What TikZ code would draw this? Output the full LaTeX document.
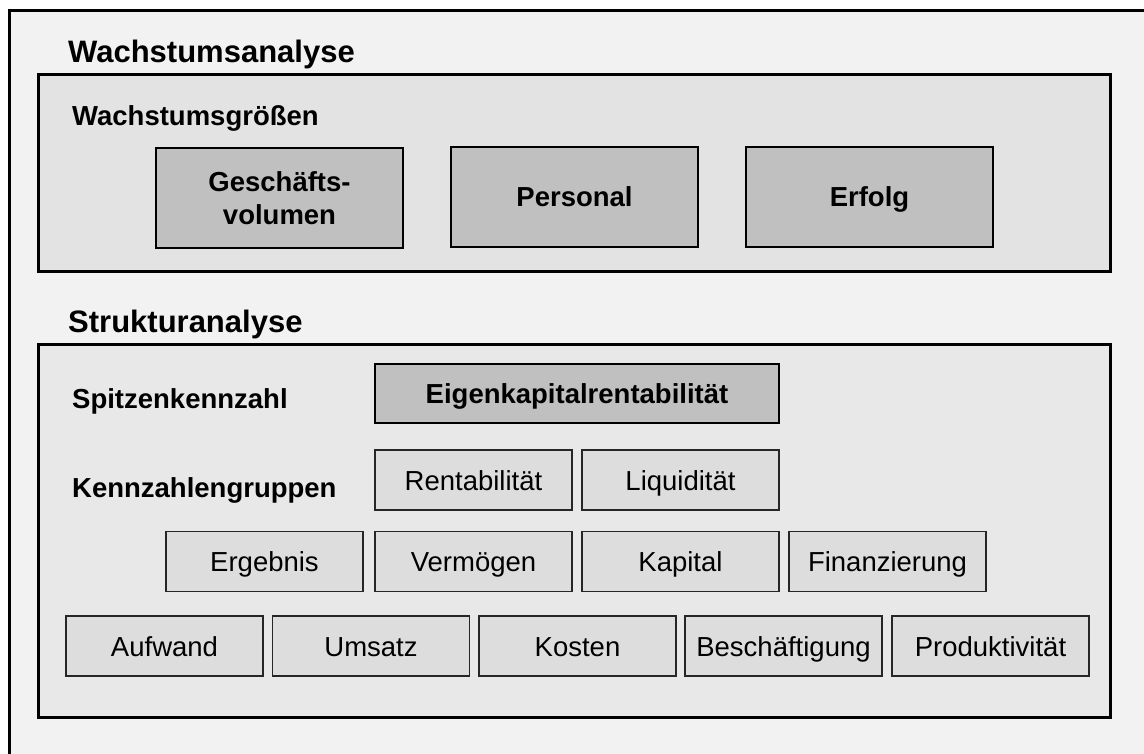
\documentclass[tikz,border=0pt]{standalone}
\usepackage{fontspec}
\setmainfont{Liberation Sans}
\definecolor{pagebg}{RGB}{242,242,242}
\definecolor{growthbg}{RGB}{227,227,227}
\definecolor{structbg}{RGB}{232,232,232}
\definecolor{darkfill}{RGB}{192,192,192}
\definecolor{lightfill}{RGB}{221,221,221}
\tikzset{
  panel/.style={draw=black, line width=3pt},
  headline/.style={anchor=base west, inner sep=0pt, font=\fontsize{31}{36}\selectfont\bfseries},
  rowlabel/.style={anchor=base west, inner sep=0pt, font=\fontsize{27.5}{33}\selectfont\bfseries},
  boxtext/.style={text height=26pt, text depth=6pt},
  keybox/.style={draw=black, line width=2.5pt, fill=darkfill, inner sep=0pt,
    minimum width=247pt, minimum height=100pt, align=center, boxtext,
    font=\fontsize{27.5}{33}\selectfont\bfseries},
  topbox/.style={draw=black, line width=1.5pt, fill=darkfill, inner sep=0pt,
    minimum width=404pt, minimum height=59pt, boxtext,
    font=\fontsize{27.5}{33}\selectfont\bfseries},
  groupbox/.style={draw=black!85, line width=1.5pt, fill=lightfill, inner sep=0pt,
    minimum width=197pt, minimum height=60pt, boxtext,
    font=\fontsize{27.5}{33}\selectfont}
}
\begin{document}
\begin{tikzpicture}[x=1pt, y=-1pt]
  \useasboundingbox (0,0) rectangle (1144,754);
  \fill[white] (0,0) rectangle (1144,754);

  % outer frame: only its top and left edges fall on the page
  \fill[pagebg] (9.5,10.5) rectangle (1144,754);
  \draw[line width=3.5pt, line cap=rect] (1144,10.5) -- (9.5,10.5) -- (9.5,754);

  % growth analysis
  \node[headline] (wa) at (68,63) {Wachstumsanalyse};
  \draw[panel, fill=growthbg] (38.5,74.5) rectangle (1110.5,271.5);
  \node[rowlabel] (wg) at (72,126) {Wachstumsgrößen};
  \node[keybox, text height={}, text depth={}] (gv) at (279.5,198) {Geschäfts-\\volumen};
  \node[keybox] (pe) at (574.5,197) {Personal};
  \node[keybox] (er) at (869.5,197) {Erfolg};

  % structure analysis
  \node[headline] (sa) at (68,332) {Strukturanalyse};
  \draw[panel, fill=structbg] (38.5,344.5) rectangle (1110.5,717.5);
  \node[rowlabel] (sk) at (72,408) {Spitzenkennzahl};
  \node[rowlabel] (kg) at (72,497) {Kennzahlengruppen};
  \node[topbox] (ek) at (577,393.5) {Eigenkapitalrentabilität};

  \node[groupbox] (re) at (473.5,480) {Rentabilität};
  \node[groupbox] (li) at (680.5,480) {Liquidität};

  \node[groupbox] (eg) at (264.5,561.5) {Ergebnis};
  \node[groupbox] (ve) at (473.5,561.5) {Vermögen};
  \node[groupbox] (ka) at (680.5,561.5) {Kapital};
  \node[groupbox] (fi) at (887.5,561.5) {Finanzierung};

  \node[groupbox] (au) at (164.5,646) {Aufwand};
  \node[groupbox] (um) at (371,646) {Umsatz};
  \node[groupbox] (ko) at (577.5,646) {Kosten};
  \node[groupbox] (be) at (783.5,646) {Beschäftigung};
  \node[groupbox] (pr) at (990.5,646) {Produktivität};
\end{tikzpicture}
\end{document}
